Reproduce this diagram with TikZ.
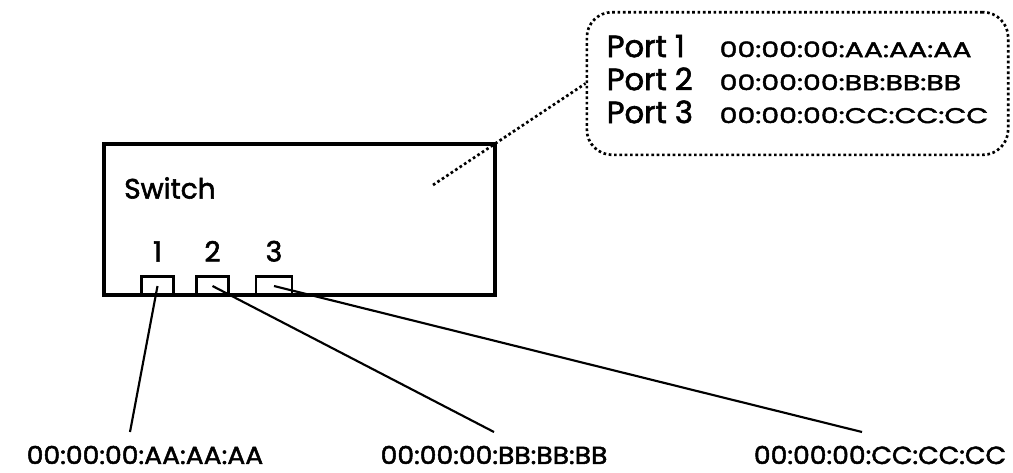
\documentclass[tikz,border=0pt]{standalone}
\usepackage{fontspec}
\setmainfont{Poppins}[FakeBold=2]
\usetikzlibrary{positioning}

\begin{document}
\begin{tikzpicture}[x=0.75pt, y=-0.75pt,
  font=\fontsize{21}{24.75}\selectfont,
  unit/.style={draw, line width=3pt, minimum width=293pt, minimum height=113pt, inner sep=0pt},
  portbox/.style={draw, line width=2.2pt, minimum height=14pt, inner sep=0pt},
  portnum/.style={inner sep=0pt},
  lookup/.style={draw, dotted, line width=2pt, rounded corners=19pt, minimum width=316pt, minimum height=107pt, inner sep=0pt,
    font=\fontsize{23}{24.75}\selectfont},
  addr/.style={font=\fontsize{18.5}{20}\selectfont\addfontfeature{FakeStretch=1.08}, inner sep=0pt},
  cable/.style={line width=1.6pt},
  link/.style={dotted, line width=2pt}]
  \useasboundingbox (0,0) rectangle (1013,472);
  % switch and its ports
  \node[unit] (switch) at (299.5,219.5) {};
  \node[inner sep=0pt, anchor=west] (name) at (124,188) {Switch};
  \node[portbox, minimum width=24pt] (port1) at (157.5,286) {};
  \node[portbox, minimum width=24pt] (port2) at (212.5,286) {};
  \node[portbox, minimum width=27pt] (port3) at (274,286) {};
  \node[portnum, above=10pt of port1] (num1) {1};
  \node[portnum, above=10pt of port2] (num2) {2};
  \node[portnum, above=10pt of port3] (num3) {3};
  % MAC table
  \newcommand\macfont{\fontsize{16}{16}\selectfont\addfontfeature{FakeStretch=1.33}}
  \node[lookup] (table) at (797.5,83.5) {%
    \begin{tabular}{@{}l@{\hspace{20pt}}l@{}}
      Port 1 & {\macfont 00:00:00:AA:AA:AA}\\
      Port 2 & {\macfont 00:00:00:BB:BB:BB}\\
      Port 3 & {\macfont 00:00:00:CC:CC:CC}
    \end{tabular}};
  \coordinate (tap) at (433,185);
  \draw[link] (tap) -- (table.west);
  % hosts
  \node[addr] (host1) at (145,455) {00:00:00:AA:AA:AA};
  \node[addr] (host2) at (494,455) {00:00:00:BB:BB:BB};
  \node[addr] (host3) at (880,455) {00:00:00:CC:CC:CC};
  \coordinate (end1) at (130,432);
  \coordinate (end2) at (494,432);
  \coordinate (end3) at (862,432);
  \draw[cable] (port1.center) -- (end1);
  \draw[cable] (port2.center) -- (end2);
  \draw[cable] (port3.center) -- (end3);
\end{tikzpicture}
\end{document}
